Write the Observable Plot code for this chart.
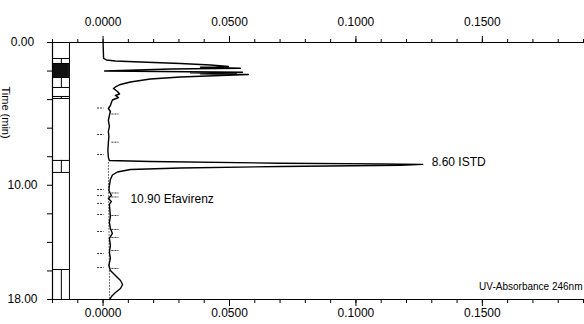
<!DOCTYPE html>
<html><head><meta charset="utf-8">
<script src="https://cdn.jsdelivr.net/npm/d3@7"></script>
<script src="https://cdn.jsdelivr.net/npm/@observablehq/plot@0.6"></script>
<style>body{margin:0;background:#fff} svg{display:block}</style>
</head><body><div id="chart"></div>
<script>
// Chromatogram trace (time in min, UV absorbance)
const time = [0,1.120,1.225,1.296,1.366,1.471,1.576,1.681,1.737,1.807,1.856,1.996,2.031,2.087,2.122,2.157,2.185,2.241,2.311,2.416,2.556,2.766,2.941,3.116,3.221,3.431,3.606,3.711,3.852,4.027,4.202,4.412,4.622,4.832,5.112,5.462,5.882,6.232,6.583,7.003,7.563,8.053,8.263,
  8.333,8.452,8.501,8.536,8.599,8.683,8.789,8.894,9.069,9.279,9.594,10.014,10.364,10.714,10.924,11.134,11.345,11.765,12.185,12.605,13.025,13.375,13.725,14.216,14.706,15.126,15.616,15.966,16.317,16.667,16.947,17.227,17.507,17.787,18.0];
const absorbance = [0,0.0002,0.0013,0.0049,0.0148,0.0306,0.0425,0.0496,0.0385,0.0543,0.0267,0.0006,0.0227,0.0551,0.0346,0.0527,0.0385,0.0575,0.0464,0.0306,0.0187,0.0108,0.0069,0.0049,0.0041,0.0057,0.0065,0.0049,0.0061,0.0037,0.0033,0.0029,0.0021,0.0029,0.0025,0.0021,0.0025,0.0021,0.0023,0.0021,0.0019,0.0021,0.0025,
  0.0187,0.0701,0.1097,0.1264,0.1177,0.0701,0.0306,0.0108,0.0057,0.0037,0.0029,0.0025,0.0023,0.0033,0.0021,0.0033,0.0025,0.0027,0.0029,0.0025,0.0029,0.0037,0.0025,0.0029,0.0025,0.0029,0.0023,0.0029,0.0049,0.0069,0.0077,0.0069,0.0049,0.0033,0.0027];
// dotted baseline (time, absorbance)
const baselineTime = [8.40, 18.0];
const baselineAbs = [0.0021, 0.0026];
// integration markers (times)
const markLeft = [4.587, 6.443, 7.843, 10.294, 10.714, 11.27, 12.045, 13.235, 14.776, 15.756];
const markRight = [5.007, 6.982, 10.539, 10.819, 12.115, 13.095, 13.655, 14.566, 15.826];
// fraction strip: boundaries (min), divided intervals, filled interval
const stripLines = [1.12, 1.47, 2.45, 3.15, 3.78, 3.92, 8.26, 9.10, 15.9, 18];
const stripDivided = [[1.12, 1.47], [2.45, 3.15], [3.78, 3.92], [8.26, 9.10], [15.9, 18]];
const stripFilled = [[1.47, 2.45]];
// peak annotations
const peakNames = ["ISTD", "Efavirenz"];
const peakTimes = [8.60, 10.90];
const peakAbs = [0.1264, 0.0033];
// axes
const majorTicks = [0, 0.05, 0.10, 0.15];
const minorTicks = d3.range(-2, 20).map(i => i / 100);
const yTicks = d3.range(0, 19, 2);
const yLabels = [0, 10, 18];

const trace = time.map((t, i) => ({time: t, abs: absorbance[i]}));
const baseline = baselineTime.map((t, i) => ({time: t, abs: baselineAbs[i]}));
const peaks = peakNames.map((n, i) => ({name: n, time: peakTimes[i], abs: peakAbs[i]}));

const SL = -0.02, SM = -0.0165, SR = -0.0133;
const fmt4 = d3.format(".4f");

const chart = Plot.plot({
  width: 584, height: 324,
  marginLeft: 52, marginRight: 1, marginTop: 42, marginBottom: 25,
  style: {fontFamily: "Liberation Sans, Arial, sans-serif", fontSize: "12px", background: "#fff", color: "#000", overflow: "visible"},
  x: {domain: [-0.02, 0.19], axis: null},
  y: {domain: [0, 18], reverse: true, axis: null},
  marks: [
    // fraction strip
    Plot.rectY(stripFilled, {x1: SL, x2: SR, y1: d => d[0], y2: d => d[1], fill: "#111"}),
    Plot.ruleY(stripLines, {x1: SL, x2: SR, stroke: "#000", strokeWidth: 1}),
    Plot.ruleX(stripDivided, {x: SM, y1: d => d[0], y2: d => d[1], stroke: "#000", strokeWidth: 1}),
    Plot.ruleX([SR], {y1: 0, y2: 18, stroke: "#000", strokeWidth: 1}),
    // frame lines
    Plot.ruleX([SL], {y1: 0, y2: 18, stroke: "#000", strokeWidth: 1.2}),
    Plot.ruleY([0, 18], {stroke: "#000", strokeWidth: 1.2}),
    // axes
    Plot.axisX({anchor: "top", ticks: minorTicks, tickSize: 4, tickFormat: () => "", label: null}),
    Plot.axisX({anchor: "top", ticks: majorTicks, tickSize: 7, tickPadding: 10, tickFormat: fmt4, label: null, fontSize: 12}),
    Plot.axisX({anchor: "bottom", ticks: minorTicks, tickSize: 4, tickFormat: () => "", label: null}),
    Plot.axisX({anchor: "bottom", ticks: majorTicks, tickSize: 7, tickPadding: 2, tickFormat: fmt4, label: null, fontSize: 12}),
    Plot.axisY({anchor: "left", ticks: yTicks, tickSize: 5, tickFormat: () => "", label: null}),
    Plot.text(yLabels, {x: SL, y: d => d, text: d => d.toFixed(2), dx: -30, textAnchor: "middle", fontSize: 12}),
    Plot.text(["Time (min)"], {frameAnchor: "top-left", dx: -43, dy: 44, rotate: 90, fontSize: 11}),
    // integration markers
    Plot.ruleY(markLeft, {x1: -0.0022, x2: 0.0004, stroke: "#333", strokeWidth: 1, strokeDasharray: "2,1"}),
    Plot.ruleY(markRight, {x1: 0.0035, x2: 0.0063, stroke: "#333", strokeWidth: 1, strokeDasharray: "2,1"}),
    // dotted baseline
    Plot.line(baseline, {x: "abs", y: "time", stroke: "#333", strokeWidth: 0.8, strokeDasharray: "1,2"}),
    // trace
    Plot.line(trace, {x: "abs", y: "time", stroke: "#000", strokeWidth: 1.4, strokeLinejoin: "round"}),
    // annotations
    Plot.text(peaks.filter(d => d.name === "ISTD"), {x: "abs", y: "time", text: d => d.time.toFixed(2) + " " + d.name, textAnchor: "start", dx: 9, dy: -3, fontSize: 12}),
    Plot.text(peaks.filter(d => d.name === "Efavirenz"), {x: "abs", y: "time", text: d => d.time.toFixed(2) + " " + d.name, textAnchor: "start", dx: 19, dy: 1.5, fontSize: 12}),
    Plot.text(["UV-Absorbance 246nm"], {frameAnchor: "bottom-right", dx: -1, dy: -10, textAnchor: "end", fontSize: 10})
  ]
});
document.getElementById("chart").appendChild(chart);
</script>
</body></html>
